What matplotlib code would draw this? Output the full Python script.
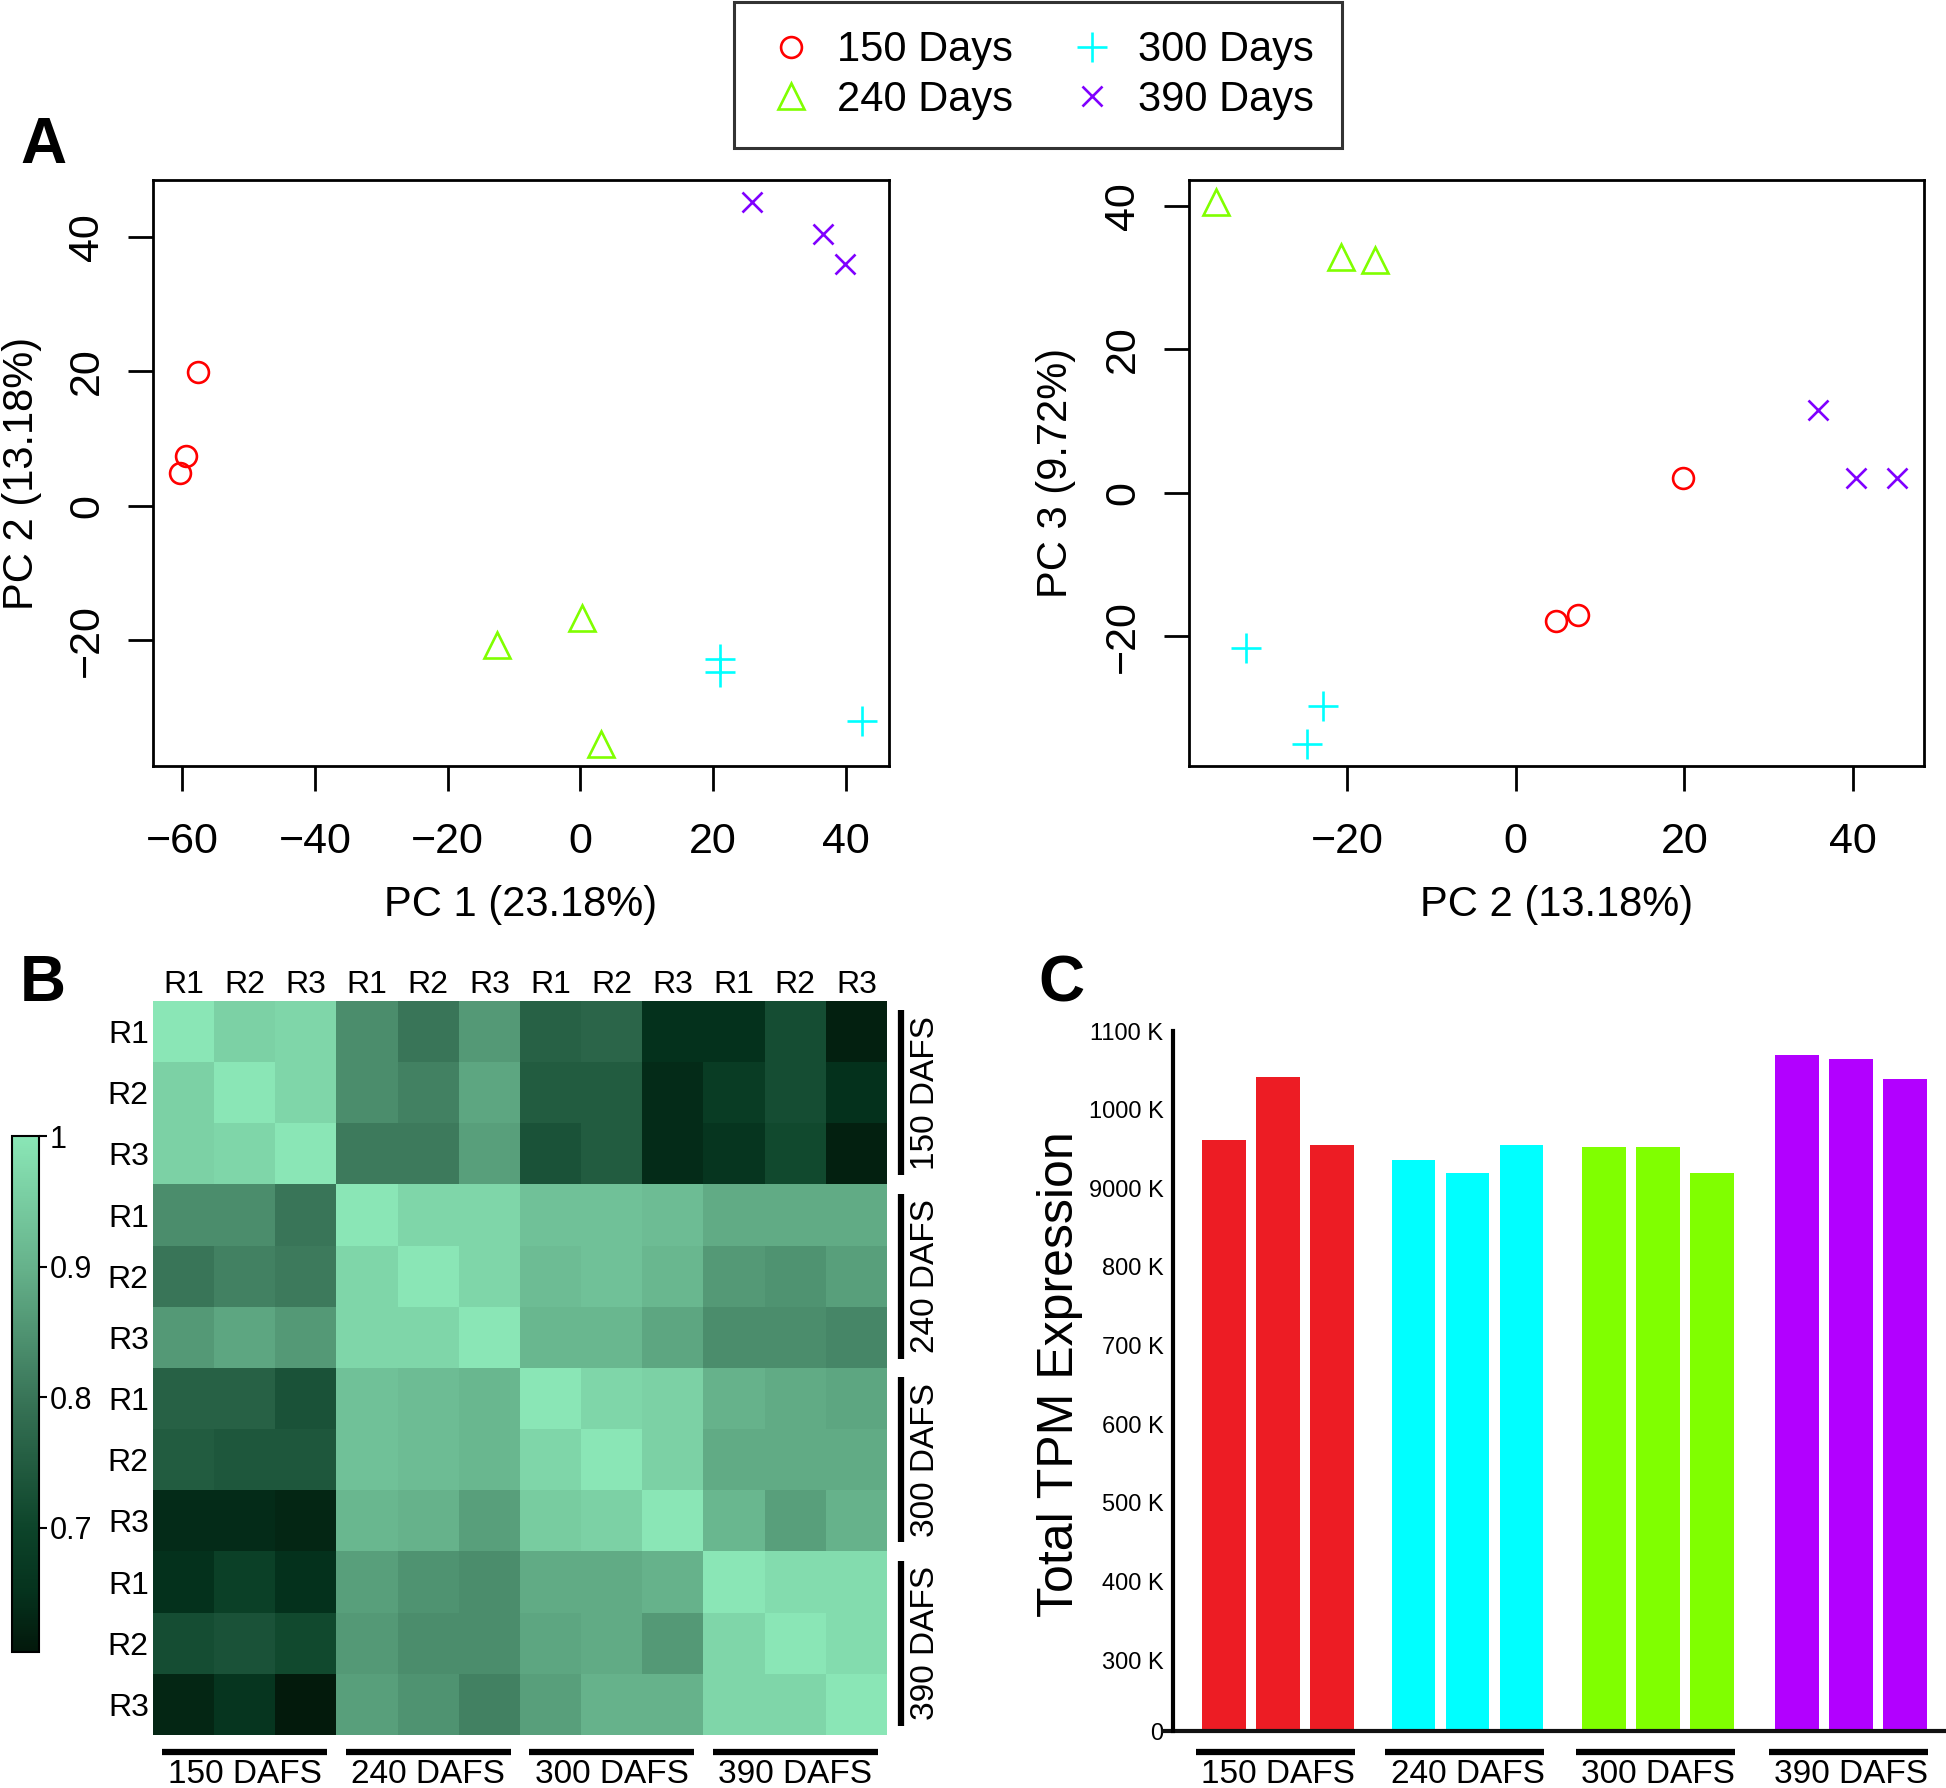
import numpy as np
import matplotlib
matplotlib.use("Agg")
import matplotlib.pyplot as plt
from matplotlib.colors import LinearSegmentedColormap, Normalize

plt.rcParams['font.family'] = ['Liberation Sans', 'DejaVu Sans']

# PCA scores, three replicates per stage
groups = ["150 Days", "240 Days", "300 Days", "390 Days"]
pc1 = [[-57.7, -59.4, -60.3], [-12.5, 0.2, 3.1], [21.1, 21.1, 42.4], [25.8, 36.6, 39.9]]
pc2 = [[19.8, 7.4, 4.8], [-20.7, -16.7, -35.5], [-22.8, -24.7, -32.0], [45.2, 40.4, 35.9]]
pc3 = [[2.0, -17.1, -17.9], [32.9, 32.4, 40.6], [-29.8, -35.1, -21.6], [2.0, 2.0, 11.5]]
pca_colors = ["#FF0000", "#80FF00", "#00FFFF", "#8000FF"]
pca_markers = ["o", "^", "+", "x"]
marker_sizes = [15, 19, 22, 15]

# sample correlation matrix (rows / cols: 150, 240, 300, 390 DAFS x R1-R3)
stages = ["150 DAFS", "240 DAFS", "300 DAFS", "390 DAFS"]
reps = ["R1", "R2", "R3"]
corr = [
    [1.00, 0.96, 0.97, 0.84, 0.80, 0.86, 0.76, 0.77, 0.65, 0.65, 0.72, 0.62],
    [0.96, 1.00, 0.97, 0.84, 0.82, 0.88, 0.75, 0.75, 0.64, 0.68, 0.72, 0.65],
    [0.96, 0.97, 1.00, 0.81, 0.81, 0.87, 0.73, 0.75, 0.64, 0.66, 0.71, 0.62],
    [0.84, 0.84, 0.80, 1.00, 0.97, 0.97, 0.93, 0.93, 0.92, 0.89, 0.89, 0.89],
    [0.80, 0.82, 0.81, 0.97, 1.00, 0.97, 0.92, 0.93, 0.91, 0.86, 0.85, 0.87],
    [0.86, 0.88, 0.86, 0.97, 0.97, 1.00, 0.91, 0.91, 0.88, 0.84, 0.84, 0.83],
    [0.76, 0.76, 0.73, 0.93, 0.92, 0.91, 1.00, 0.97, 0.96, 0.90, 0.89, 0.88],
    [0.75, 0.74, 0.74, 0.93, 0.92, 0.91, 0.97, 1.00, 0.96, 0.89, 0.89, 0.89],
    [0.64, 0.64, 0.63, 0.91, 0.90, 0.87, 0.95, 0.96, 1.00, 0.91, 0.87, 0.90],
    [0.65, 0.69, 0.65, 0.87, 0.85, 0.84, 0.89, 0.89, 0.90, 1.00, 0.98, 0.98],
    [0.72, 0.73, 0.71, 0.86, 0.84, 0.84, 0.88, 0.89, 0.86, 0.97, 1.00, 0.98],
    [0.63, 0.66, 0.61, 0.87, 0.85, 0.82, 0.87, 0.90, 0.90, 0.97, 0.97, 1.00],
]

# total TPM per library, in thousands
tpm = [[961, 1042, 955], [936, 920, 955], [952, 953, 920], [1069, 1064, 1039]]
bar_colors = ["#ED1C24", "#00FFFF", "#80FF00", "#B200FF"]
tpm_ticks = [210, 300, 400, 500, 600, 700, 800, 900, 1000, 1100]
tpm_ticklabels = ["0", "300 K", "400 K", "500 K", "600 K", "700 K", "800 K",
                  "9000 K", "1000 K", "1100 K"]

W, H = 1946, 1788
fig = plt.figure(figsize=(W / 100, H / 100), dpi=100)


def box(l, t, r, b):
    return [l / W, 1 - b / H, (r - l) / W, (b - t) / H]


def r_range(vals):
    # R-style axis range: data range plus 4% each side
    flat = [v for grp in vals for v in grp]
    lo, hi = min(flat), max(flat)
    pad = 0.04 * (hi - lo)
    return lo - pad, hi + pad


def pca_axes(ax, xs, ys, xticks, xlabel, ylabel, ylab_x):
    for g in range(4):
        ax.plot(xs[g], ys[g], linestyle='none', marker=pca_markers[g],
                mfc='none', mec=pca_colors[g], ms=marker_sizes[g], mew=1.9,
                label=groups[g])
    ax.set_xticks(xticks)
    ax.set_yticks([-20, 0, 20, 40])
    ax.set_xlim(*r_range(xs))
    ax.set_ylim(*r_range(ys))
    ax.tick_params(axis='both', labelsize=31, length=18, width=2)
    ax.tick_params(axis='x', pad=22)
    ax.tick_params(axis='y', pad=15)
    for lab in ax.get_yticklabels():
        lab.set_rotation(90)
        lab.set_va('center')
    for s in ax.spines.values():
        s.set_linewidth(2)
    ax.set_xlabel(xlabel, fontsize=30, va='center')
    ax.xaxis.set_label_coords(0.5, -0.238)
    ax.set_ylabel(ylabel, fontsize=30, va='center')
    ax.yaxis.set_label_coords(ylab_x, 0.5)


# ---- A: PCA ----
ax1 = fig.add_axes(box(153, 180, 889, 766))
pca_axes(ax1, pc1, pc2, [-60, -40, -20, 0, 20, 40], "PC 1 (23.18%)", "PC 2 (13.18%)", -0.178)

ax2 = fig.add_axes(box(1189, 180, 1924, 766))
pca_axes(ax2, pc2, pc3, [-20, 0, 20, 40], "PC 2 (13.18%)", "PC 3 (9.72%)", -0.181)

handles, labels = ax1.get_legend_handles_labels()
leg = fig.legend(handles, labels, loc='upper center', bbox_to_anchor=(1038 / W, 1 - 2 / H),
                 ncol=2, fontsize=30, frameon=True, fancybox=False, edgecolor='black',
                 handlelength=1.4, handletextpad=0.4, columnspacing=1.2,
                 labelspacing=0.22, borderpad=0.68, borderaxespad=0)
leg.get_frame().set_linewidth(2.2)

# ---- B: correlation heatmap ----
cmap = LinearSegmentedColormap.from_list(
    "corr", [(0.0, "#03180b"), (0.114, "#05321d"), (0.24, "#0d442a"),
             (0.494, "#397558"), (0.747, "#66b28b"), (1.0, "#8ae6b6")])
norm = Normalize(vmin=0.605, vmax=1.0)
axh = fig.add_axes(box(153, 1001, 887, 1735))
im = axh.imshow(np.array(corr), cmap=cmap, norm=norm, aspect='auto',
                interpolation='nearest')
labels12 = reps * 4
axh.xaxis.tick_top()
axh.set_xticks(range(12))
axh.set_xticklabels(labels12, fontsize=23)
axh.set_yticks(range(12))
axh.set_yticklabels(labels12, fontsize=23)
axh.tick_params(length=0, pad=3)
axh.tick_params(axis='x', pad=1)
for s in axh.spines.values():
    s.set_visible(False)

xt = axh.get_xaxis_transform()
yt = axh.get_yaxis_transform()
for g in range(4):
    a, b = 3 * g - 0.5 + 0.15, 3 * g + 2.5 - 0.15
    axh.plot([a, b], [-0.023, -0.023], transform=xt, clip_on=False, color='black',
             lw=4.5, solid_capstyle='butt')
    axh.text(3 * g + 1, -0.0655, stages[g], transform=xt, ha='center', va='baseline',
             fontsize=24)
    axh.plot([1.019, 1.019], [a, b], transform=yt, clip_on=False, color='black',
             lw=4.5, solid_capstyle='butt')
    axh.text(1.052, 3 * g + 1, stages[g], transform=yt, ha='center', va='center',
             rotation=90, fontsize=24)

cax = fig.add_axes(box(12, 1136, 39, 1652))
cb = fig.colorbar(im, cax=cax, ticks=[0.7, 0.8, 0.9, 1.0])
cb.ax.set_yticklabels(["0.7", "0.8", "0.9", "1"])
cb.ax.tick_params(labelsize=22, length=6, width=1.5, pad=2)
cb.outline.set_linewidth(1.5)

# ---- C: total TPM ----
axc = fig.add_axes(box(1173, 1031, 1946, 1731))
group_start = [0, 3.51, 7.04, 10.61]
for g in range(4):
    xs = [group_start[g] + i for i in range(3)]
    axc.bar(xs, tpm[g], width=0.81, color=bar_colors[g])
    axc.plot([xs[0] - 0.52, xs[2] + 0.42], [-0.03, -0.03],
             transform=axc.get_xaxis_transform(), clip_on=False, color='black',
             lw=4.5, solid_capstyle='butt')
    axc.text(xs[1], -0.0745, stages[g], transform=axc.get_xaxis_transform(),
             ha='center', va='baseline', fontsize=24)
axc.set_xlim(-0.944, 13.37)
axc.set_ylim(tpm_ticks[0], tpm_ticks[-1])
axc.set_yticks(tpm_ticks)
axc.set_yticklabels(tpm_ticklabels, fontsize=17)
axc.set_xticks([])
axc.tick_params(axis='y', length=0, pad=7)
for k in ['top', 'right', 'bottom']:
    axc.spines[k].set_visible(False)
axc.spines['left'].set_linewidth(3)
axc.plot([-0.013, 1.0], [0, 0], transform=axc.transAxes, clip_on=False,
         color='#111111', lw=3)
axc.set_ylabel("Total TPM Expression", fontsize=36, va='center')
axc.yaxis.set_label_coords(-0.146, 0.51)

# panel letters
for letter, x, y in [("A", 43, 146), ("B", 43, 984), ("C", 1061, 984)]:
    fig.text(x / W, 1 - y / H, letter, fontsize=46, fontweight='bold',
             ha='center', va='center')

fig.savefig("out.png", dpi=100)
